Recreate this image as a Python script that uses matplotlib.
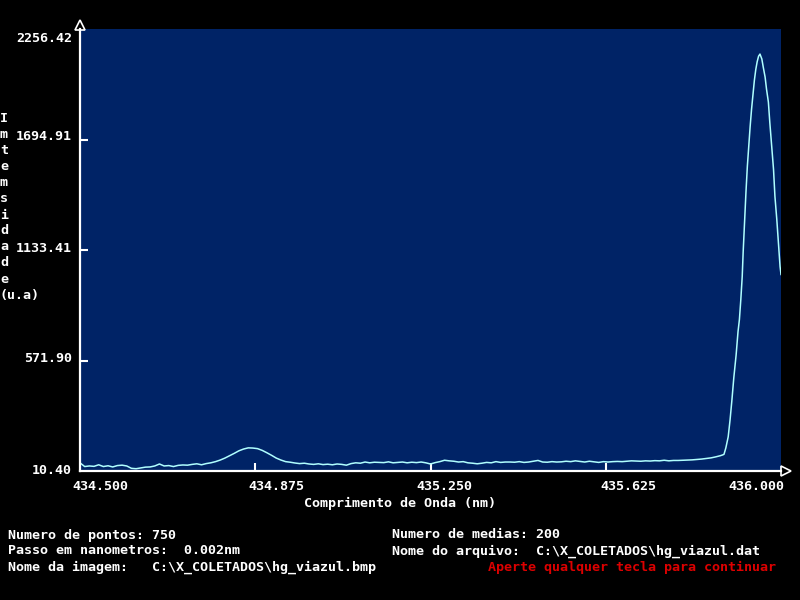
import matplotlib
matplotlib.use("Agg")
import matplotlib.pyplot as plt

# ---------------- data ----------------
wavelength = [
    434.50, 434.51, 434.52, 434.53, 434.54, 434.55, 434.56, 434.57, 434.58, 434.59,
    434.60, 434.61, 434.62, 434.63, 434.64, 434.65, 434.66, 434.67, 434.68, 434.69,
    434.70, 434.71, 434.72, 434.73, 434.74, 434.75, 434.76, 434.77, 434.78, 434.79,
    434.80, 434.81, 434.82, 434.83, 434.84, 434.85, 434.86, 434.87, 434.88, 434.89,
    434.90, 434.91, 434.92, 434.93, 434.94, 434.95, 434.96, 434.97, 434.98, 434.99,
    435.00, 435.01, 435.02, 435.03, 435.04, 435.05, 435.06, 435.07, 435.08, 435.09,
    435.10, 435.11, 435.12, 435.13, 435.14, 435.15, 435.16, 435.17, 435.18, 435.19,
    435.20, 435.21, 435.22, 435.23, 435.24, 435.25, 435.26, 435.27, 435.28, 435.29,
    435.30, 435.31, 435.32, 435.33, 435.34, 435.35, 435.36, 435.37, 435.38, 435.39,
    435.40, 435.41, 435.42, 435.43, 435.44, 435.45, 435.46, 435.47, 435.48, 435.49,
    435.50, 435.51, 435.52, 435.53, 435.54, 435.55, 435.56, 435.57, 435.58, 435.59,
    435.60, 435.61, 435.62, 435.63, 435.64, 435.65, 435.66, 435.67, 435.68, 435.69,
    435.70, 435.71, 435.72, 435.73, 435.74, 435.75, 435.76, 435.77, 435.78, 435.79,
    435.80, 435.81, 435.82, 435.83, 435.84, 435.85, 435.86, 435.87, 435.875, 435.878,
    435.882, 435.887, 435.891, 435.895, 435.899, 435.904, 435.908, 435.911, 435.914, 435.917,
    435.919, 435.922, 435.925, 435.928, 435.931, 435.934, 435.937, 435.940, 435.943, 435.946,
    435.949, 435.952, 435.955, 435.959, 435.962, 435.966, 435.969, 435.973, 435.976, 435.980,
    435.984, 435.987, 435.991, 435.994, 435.998, 436.000,
]
intensity = [
    52, 33, 36, 34, 42, 33, 37, 31, 38, 40,
    36, 24, 22, 26, 30, 31, 36, 46, 36, 38,
    33, 39, 41, 40, 44, 47, 42, 48, 52, 58,
    66, 76, 88, 100, 113, 122, 128, 127, 124, 115,
    103, 90, 76, 66, 58, 55, 51, 48, 50, 46,
    44, 47, 43, 45, 42, 46, 44, 40, 48, 52,
    50, 56, 52, 55, 54, 53, 57, 52, 54, 56,
    52, 55, 53, 56, 52, 46, 53, 58, 65, 62,
    60, 56, 58, 52, 50, 47, 50, 54, 52, 58,
    54, 56, 56, 55, 58, 54, 56, 60, 64, 56,
    55, 58, 56, 57, 60, 58, 62, 59, 56, 60,
    57, 54, 58, 56, 58, 59, 58, 60, 62, 61,
    60, 62, 61, 63, 62, 65, 62, 64, 64, 65,
    66, 67, 69, 71, 74, 77, 82, 88, 92, 95,
    128, 184, 270, 372, 484, 601, 718, 780, 881, 998,
    1121, 1273, 1426, 1559, 1660, 1762, 1849, 1925, 1995, 2050,
    2090, 2118, 2129, 2104, 2063, 2012, 1951, 1885, 1783, 1660,
    1543, 1406, 1289, 1187, 1049, 1009,
]

y_min, y_max = 10.40, 2256.42
x_min, x_max = 434.5, 436.0
y_ticks = [571.90, 1133.41, 1694.91]
y_tick_labels = ["2256.42", "1694.91", "1133.41", "571.90", "10.40"]
y_label_pix = [39, 137, 248, 359, 471]
x_ticks = [434.875, 435.25, 435.625]
x_tick_labels = ["434.500", "434.875", "435.250", "435.625", "436.000"]
x_label_pix = [72, 248, 416, 600, 728]

info_left = ["Numero de pontos: 750",
             "Passo em nanometros:  0.002nm",
             "Nome da imagem:   C:\\X_COLETADOS\\hg_viazul.bmp"]
info_right = ["Numero de medias: 200",
              "Nome do arquivo:  C:\\X_COLETADOS\\hg_viazul.dat"]
prompt = "Aperte qualquer tecla para continuar"
ylabel_chars = ["I", "m", "t", "e", "m", "s", "i", "d", "a", "d", "e", "(u.a)"]
xlabel = "Comprimento de Onda (nm)"

# ---------------- figure ----------------
W, H = 800, 600
fig = plt.figure(figsize=(8, 6), dpi=100, facecolor="black")
L, R, T, B = 80, 781, 29, 471
ax = fig.add_axes([L / W, 1 - B / H, (R - L) / W, (B - T) / H])
ax.set_facecolor("#002366")
ax.plot(wavelength, intensity, color="#B0FFFF", lw=1.1)
ax.set_xlim(x_min, x_max)
ax.set_ylim(y_min, y_max)

for s in ["top", "right"]:
    ax.spines[s].set_visible(False)
for s in ["left", "bottom"]:
    ax.spines[s].set_color("white")
    ax.spines[s].set_linewidth(1.6)

ax.set_yticks(y_ticks)
ax.set_xticks(x_ticks)
ax.tick_params(axis="both", direction="in", colors="white", width=1.5,
               labelleft=False, labelbottom=False)
ax.tick_params(axis="y", length=6)
ax.tick_params(axis="x", length=5.5)

# axis arrows
ax.plot([0], [1 + 4 / (B - T)], marker="^", ms=7, mfc="black", mec="white",
        mew=1.2, transform=ax.transAxes, clip_on=False)
ax.plot([1 + 5 / (R - L)], [0], marker=">", ms=7, mfc="black", mec="white",
        mew=1.2, transform=ax.transAxes, clip_on=False)

font = dict(family="DejaVu Sans Mono", fontsize=9.6, fontweight="bold")


def ptext(x, y, s, color="white", ha="left"):
    fig.text(x / W, 1 - y / H, s, color=color, ha=ha, va="center", **font)


for lab, yp in zip(y_tick_labels, y_label_pix):
    ptext(72, yp, lab, ha="right")
for lab, xp in zip(x_tick_labels, x_label_pix):
    ptext(xp, 487, lab)
ptext(304, 503, xlabel)

for i, ch in enumerate(ylabel_chars):
    ptext(0, 119 + 16 * i, ch)

for i, s in enumerate(info_left):
    ptext(8, 535 + 16 * i, s)
for i, s in enumerate(info_right):
    ptext(392, 535 + 16 * i, s)
ptext(488, 567, prompt, color="#DD0000")

fig.savefig("out.png", dpi=100, facecolor="black")
